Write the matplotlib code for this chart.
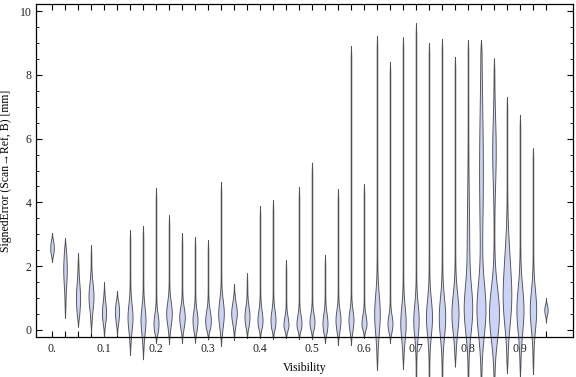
import numpy as np
import matplotlib
matplotlib.use("Agg")
import matplotlib.pyplot as plt

# ---- data ----
visibility = [0.000, 0.025, 0.050, 0.075, 0.100, 0.125, 0.150, 0.175, 0.200, 0.225,
              0.250, 0.275, 0.300, 0.325, 0.350, 0.375, 0.400, 0.425, 0.450, 0.475,
              0.500, 0.525, 0.550, 0.575, 0.600, 0.625, 0.650, 0.675, 0.700, 0.725,
              0.750, 0.775, 0.800, 0.825, 0.850, 0.875, 0.900, 0.925, 0.950]
err_min = [2.13, 0.38, 0.10, -0.10, -0.20, -0.16, -0.78, -0.92, -0.41, -0.44,
           -0.41, -0.40, -0.30, -0.50, -0.31, -0.25, -0.25, -0.29, -0.25, -0.29,
           -0.29, -0.41, -0.47, -0.47, -0.25, -1.26, -0.41, -1.22, -1.75, -1.75,
           -1.75, -1.15, -1.75, -1.75, -1.75, -1.35, -1.50, -1.38, 0.23]
err_max = [3.04, 2.88, 2.41, 2.66, 1.50, 1.22, 3.13, 3.26, 4.45, 3.60,
           3.04, 2.92, 2.82, 4.64, 1.44, 1.78, 3.89, 4.08, 2.19, 4.49,
           5.25, 2.35, 4.42, 8.90, 4.58, 9.22, 8.40, 9.18, 9.62, 9.00,
           9.12, 8.56, 9.09, 9.09, 8.52, 7.31, 6.74, 5.70, 1.00]
err_mode = [2.57, 1.90, 1.00, 1.05, 0.55, 0.57, 0.40, 0.30, 0.20, 0.52,
            0.40, 0.30, 0.30, 0.52, 0.53, 0.42, 0.31, 0.31, 0.16, 0.21,
            0.25, 0.21, 0.31, 0.31, 0.21, 0.50, 0.21, 0.22, 0.30, 0.40,
            0.40, 0.52, 0.63, 0.63, 0.52, 0.90, 0.63, 0.63, 0.63]
# relative density (peak half-width, in units of x)
peak_width = [0.0028, 0.0028, 0.0034, 0.0042, 0.0034, 0.0034, 0.0042, 0.0042, 0.0042, 0.0048,
              0.0048, 0.0042, 0.0048, 0.0048, 0.0048, 0.0042, 0.0042, 0.0042, 0.0042, 0.0042,
              0.0042, 0.0042, 0.0042, 0.0042, 0.0042, 0.0048, 0.0042, 0.0046, 0.0046, 0.0052,
              0.0056, 0.0062, 0.0068, 0.0078, 0.0090, 0.0068, 0.0062, 0.0056, 0.0026]
peak_spread = [0.25, 0.50, 0.45, 0.40, 0.30, 0.30, 0.40, 0.40, 0.30, 0.35,
               0.30, 0.30, 0.30, 0.40, 0.30, 0.30, 0.30, 0.30, 0.25, 0.25,
               0.25, 0.30, 0.30, 0.30, 0.25, 0.60, 0.25, 0.50, 0.50, 0.55,
               0.60, 0.60, 0.70, 0.80, 0.80, 0.80, 0.70, 0.60, 0.15]
# secondary (upper) mode: centre, half-width, spread
mode2 = [0, 0, 0, 0, 0, 0, 0, 0, 0, 0, 0, 0, 0, 0, 0, 0, 0, 0, 0, 0,
         0, 0, 0, 0, 0, 0, 0, 0, 0, 0, 0, 0, 2.5, 5.0, 5.6, 2.2, 0, 0, 0]
width2 = [0, 0, 0, 0, 0, 0, 0, 0, 0, 0, 0, 0, 0, 0, 0, 0, 0, 0, 0, 0,
          0, 0, 0, 0, 0, 0, 0, 0, 0, 0, 0, 0, 0.0018, 0.0030, 0.0028, 0.0030, 0, 0, 0]
spread2 = [1, 1, 1, 1, 1, 1, 1, 1, 1, 1, 1, 1, 1, 1, 1, 1, 1, 1, 1, 1,
           1, 1, 1, 1, 1, 1, 1, 1, 1, 1, 1, 1, 1.5, 2.0, 1.0, 0.8, 1, 1, 1]

x_tick_labels = ["0.", "0.1", "0.2", "0.3", "0.4", "0.5", "0.6", "0.7", "0.8", "0.9"]
y_tick_values = [0, 2, 4, 6, 8, 10]

plt.rcParams['font.family'] = ['Liberation Serif', 'DejaVu Serif']

fig = plt.figure(figsize=(5.76, 3.77), dpi=100)
ax = fig.add_axes([36/576, 40/377, 537/576, 333/377])

face = '#cbd3f6'
edge = '#505050'
base_w = 0.0006
for i, xv in enumerate(visibility):
    lo, hi = err_min[i], err_max[i]
    y = np.linspace(lo, hi, 400)
    w = base_w + peak_width[i] * np.exp(-0.5 * ((y - err_mode[i]) / peak_spread[i]) ** 2)
    if width2[i] > 0:
        w = w + width2[i] * np.exp(-0.5 * ((y - mode2[i]) / spread2[i]) ** 2)
    tl = min(0.35, (hi - lo) / 3)
    taper = np.clip((y - lo) / tl, 0, 1) ** 0.8 * np.clip((hi - y) / tl, 0, 1) ** 0.8
    w = w * taper
    ax.fill_betweenx(y, xv - w, xv + w, facecolor=face, edgecolor=edge,
                     linewidth=0.65, clip_on=False, zorder=3)

ax.set_xlim(-0.0308, 1.002)
ax.set_ylim(-0.22, 10.22)

ax.set_xticks(visibility, minor=False)
lab = []
for xv in visibility:
    k = int(round(xv * 1000))
    if k % 100 == 0:
        lab.append(x_tick_labels[k // 100])
    else:
        lab.append("")
ax.set_xticklabels(lab)
ax.set_yticks(y_tick_values)
ax.set_yticklabels([str(v) for v in y_tick_values])
ax.set_yticks(np.arange(0, 10.01, 0.5), minor=True)

ax.tick_params(axis='both', which='both', direction='in', top=True, right=True,
               labelsize=8.5, colors='black', labelcolor='#222222')
ax.tick_params(axis='x', which='major', length=4.5, width=0.8, pad=4)
ax.tick_params(axis='y', which='major', length=4, width=0.8, pad=3)
ax.tick_params(axis='y', which='minor', length=2.2, width=0.6)
for s in ax.spines.values():
    s.set_linewidth(0.9)
    s.set_zorder(4)

ax.set_xlabel("Visibility", fontsize=8.5, labelpad=5)
ax.set_ylabel("SignedError (Scan\u2192Ref, B) [mm]", fontsize=8.5, labelpad=6)

fig.savefig("out.png", dpi=100)
